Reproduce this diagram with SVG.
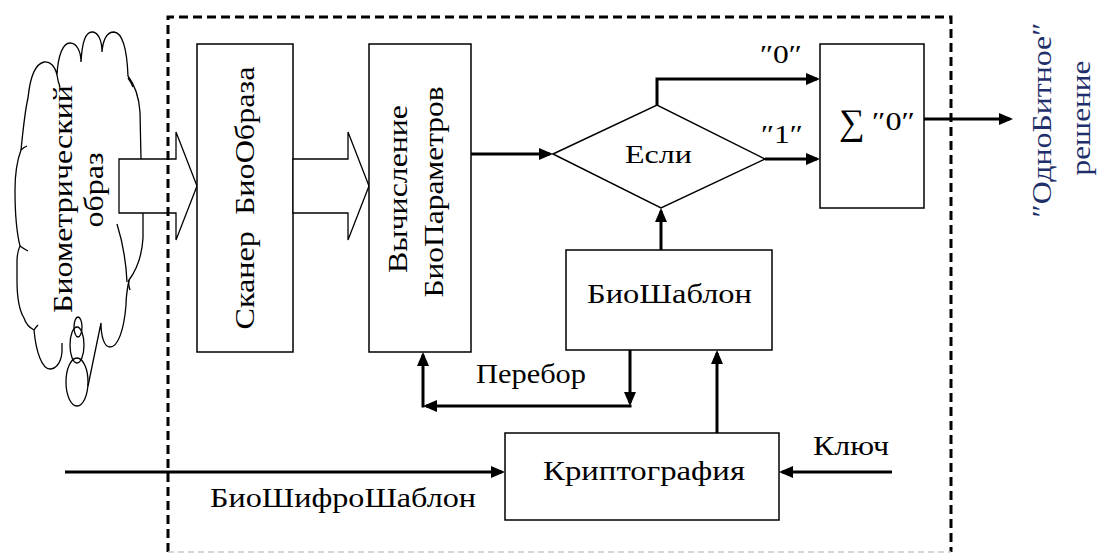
<svg xmlns="http://www.w3.org/2000/svg" width="1099" height="554" viewBox="0 0 1099 554">
<style>
.box{fill:#fff;stroke:#000;stroke-width:1.5}
.thin{fill:none;stroke:#000;stroke-width:1.3}
.blk{fill:#fff;stroke:#000;stroke-width:1.3}
.conn{fill:none;stroke:#000;stroke-width:3}
text{font-family:'Liberation Serif','Times New Roman',serif;font-size:27px;fill:#000}
.s{font-size:26px}
.out{fill:#1f2f6a}
</style>
<defs>
<marker id="ah" markerUnits="userSpaceOnUse" markerWidth="14" markerHeight="12" refX="11" refY="6" orient="auto">
<path d="M0,0 L14,6 L0,12 z" fill="#000"/>
</marker>
</defs>
<rect width="1099" height="554" fill="#fff"/>

<g id="cloud">
<path class="thin" d="M62,343 L62,352 C61,364 55,369 50,369 C42,369 36,352 34,330 C30,328 26,324 24,318 C19,310 17,295 17,280 L17,262 C17,255 18,250 20,246 C16,230 15,210 15,190 C15,170 18,158 21,150 C23,130 25,110 28,98 C30,78 35,64 44,62 C50,61 55,66 57,75 C58,55 63,43 70,43 C77,43 81,52 81,62 C82,42 86,32 92,32 C98,32 102,40 102,52 C103,40 107,32 114,32 C123,33 127,50 128,76 C134,84 139,97 140,112 L141,159"/>
<path class="thin" d="M143,213 L143,238 C142,255 138,268 129,280 C127,290 126,298 126,305 C124,330 118,347 110,347 C104,347 101,336 101,323 L88,386"/>
<path class="thin" d="M21,150 Q24,147 27,146 M20,246 Q24,249 28,251 M57,75 Q58,82 60,87 M128,78 Q131,82 133,87 M117,224 C122,240 126,260 127,282 M129,280 Q128,285 130,290 M34,330 Q36,327 38,325"/>
<ellipse class="thin" cx="78" cy="327" rx="4" ry="10"/>
<ellipse class="thin" cx="77" cy="345" rx="7" ry="18"/>
<ellipse class="thin" cx="77" cy="382" rx="11" ry="24"/>
<text text-anchor="middle" textLength="228" lengthAdjust="spacingAndGlyphs" transform="translate(72,199) rotate(-90)">Биометрический</text>
<text text-anchor="middle" textLength="75" lengthAdjust="spacingAndGlyphs" transform="translate(103,190) rotate(-90)">образ</text>
</g>

<g id="block-arrow-1">
<polygon class="blk" points="119,159 176,159 176,132 197,186 176,240 176,213 119,213"/>
</g>

<g id="scanner">
<rect class="box" x="197" y="44" width="96" height="308"/>
<text text-anchor="middle" textLength="263" lengthAdjust="spacingAndGlyphs" style="white-space:pre" transform="translate(254,198) rotate(-90)">Сканер  БиоОбраза</text>
</g>

<g id="block-arrow-2">
<polygon class="blk" points="293,159 348,159 348,132 369,186 348,240 348,213 293,213"/>
</g>

<g id="calc">
<rect class="box" x="369" y="44" width="102" height="308"/>
<text text-anchor="middle" textLength="168" lengthAdjust="spacingAndGlyphs" transform="translate(407,189) rotate(-90)">Вычисление</text>
<text text-anchor="middle" textLength="211" lengthAdjust="spacingAndGlyphs" transform="translate(443,192) rotate(-90)">БиоПараметров</text>
</g>

<g id="if">
<polygon class="box" points="553,154 657,105 765,159 661,208"/>
<text class="s" x="625" y="163" textLength="67" lengthAdjust="spacingAndGlyphs">Если</text>
</g>

<g id="sum">
<rect class="box" x="820" y="44" width="104" height="164"/>
<text x="839" y="134" style="font-size:36px">∑</text>
<text class="s" x="872" y="130" textLength="43" lengthAdjust="spacingAndGlyphs">″0″</text>
</g>

<g id="template">
<rect class="box" x="566" y="250" width="206" height="100"/>
<text x="587" y="303" textLength="165" lengthAdjust="spacingAndGlyphs">БиоШаблон</text>
</g>

<g id="crypto">
<rect class="box" x="505" y="433" width="274" height="87"/>
<text x="543" y="480" textLength="202" lengthAdjust="spacingAndGlyphs">Криптография</text>
</g>

<g id="output">
<text class="out" text-anchor="middle" textLength="195" lengthAdjust="spacingAndGlyphs" transform="translate(1051,120) rotate(-90)">″ОдноБитное″</text>
<text class="out" text-anchor="middle" textLength="115" lengthAdjust="spacingAndGlyphs" transform="translate(1090,118) rotate(-90)">решение</text>
</g>

<g id="connectors">
<path class="conn" marker-end="url(#ah)" d="M471,154 H550"/>
<path class="conn" marker-end="url(#ah)" d="M657,105 V79 H817"/>
<path class="conn" marker-end="url(#ah)" d="M765,159 H817"/>
<path class="conn" marker-end="url(#ah)" d="M924,119 H1010"/>
<path class="conn" marker-end="url(#ah)" d="M661,250 V211"/>
<path class="conn" marker-end="url(#ah)" d="M717,433 V353"/>
<path class="conn" marker-end="url(#ah)" d="M630,350 V403"/>
<path class="conn" marker-end="url(#ah)" d="M631.5,406 H426"/>
<path class="conn" marker-end="url(#ah)" d="M423,407.5 V355"/>
<path class="conn" marker-end="url(#ah)" d="M65,472 H502"/>
<path class="conn" marker-end="url(#ah)" d="M892,472 H782"/>
<text class="s" x="760" y="63" textLength="42" lengthAdjust="spacingAndGlyphs">″0″</text>
<text class="s" x="761" y="143" textLength="42" lengthAdjust="spacingAndGlyphs">″1″</text>
<text x="476" y="383" textLength="110" lengthAdjust="spacingAndGlyphs">Перебор</text>
<text x="813" y="455" textLength="76" lengthAdjust="spacingAndGlyphs">Ключ</text>
<text x="210" y="507" textLength="266" lengthAdjust="spacingAndGlyphs">БиоШифроШаблон</text>
</g>

<g id="boundary">
<path d="M168,552 V17 H951 V552" fill="none" stroke="#000" stroke-width="3" stroke-dasharray="9 5"/>
<path d="M168,552 H951" fill="none" stroke="#c8c8c8" stroke-width="1.5" stroke-dasharray="6 4"/>
</g>
</svg>
